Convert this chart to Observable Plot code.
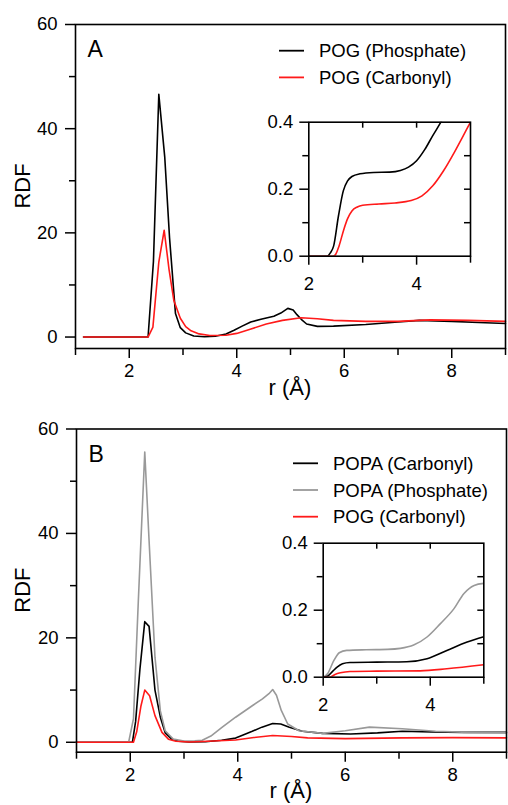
<!DOCTYPE html>
<html><head><meta charset="utf-8">
<script src="https://cdn.jsdelivr.net/npm/d3@7"></script>
<script src="https://cdn.jsdelivr.net/npm/@observablehq/plot@0.6"></script>
<style>
body{margin:0;background:#fff;}
#fig{position:relative;width:508px;height:805px;overflow:hidden;background:#fff;}
</style></head><body><div id="fig"></div>
<script>
// ---------- Panel A (main) ----------
const rPhosA = [1.15,2.35,2.45,2.55,2.66,2.75,2.86,2.95,3.05,3.2,3.4,3.6,3.8,3.95,4.1,4.26,4.45,4.69,4.82,4.95,5.05,5.12,5.2,5.3,5.5,5.8,6.4,7.0,7.4,8.0,8.5,9.0];
const gPhosA = [0,0,14.5,46.6,34.6,19,4.5,1.8,0.8,0.2,0.05,0.15,0.6,1.3,2.1,2.9,3.4,4.0,4.6,5.5,5.2,4.3,3.4,2.5,2.05,2.1,2.4,2.9,3.2,3.0,2.8,2.6];
const rCarbA = [1.15,2.35,2.44,2.55,2.65,2.74,2.83,2.95,3.05,3.15,3.3,3.5,3.8,4.0,4.25,4.55,4.85,5.2,5.5,5.8,6.4,7.0,7.6,8.3,9.0];
const gCarbA = [0,0,1.9,14.4,20.5,13,7.0,3.6,2.0,1.2,0.6,0.3,0.35,0.7,1.5,2.5,3.2,3.7,3.5,3.2,3.0,3.0,3.3,3.2,3.0];
// ---------- Panel A (inset) ----------
const rInPhosA = [2,2.34,2.4,2.46,2.55,2.64,2.72,2.8,2.95,3.2,3.5,3.7,3.85,4.0,4.15,4.3,4.45,4.55];
const gInPhosA = [0,0,0.01,0.03,0.12,0.195,0.225,0.238,0.246,0.25,0.251,0.256,0.266,0.285,0.318,0.36,0.40,0.43];
const rInCarbA = [2,2.45,2.5,2.56,2.65,2.72,2.8,2.9,3.0,3.3,3.6,3.9,4.1,4.3,4.5,4.7,4.85,5.0];
const gInCarbA = [0,0,0.006,0.03,0.08,0.112,0.135,0.147,0.152,0.156,0.159,0.166,0.18,0.21,0.255,0.31,0.355,0.40];
// ---------- Panel B (main) ----------
const rPopaCarbB = [1.0,2.04,2.1,2.18,2.27,2.35,2.46,2.56,2.65,2.77,2.9,3.1,3.4,3.7,3.96,4.1,4.27,4.45,4.65,4.8,4.96,5.2,5.58,6.1,6.6,7.06,7.6,8.2,9.0];
const gPopaCarbB = [0,0,4,14,23.1,22.2,10,4.8,1.8,0.6,0.2,0.05,0.1,0.4,0.8,1.4,2.1,2.9,3.6,3.5,2.9,2.1,1.7,1.6,1.8,2.1,2.0,1.9,1.9];
const rPopaPhosB = [1.0,1.97,2.06,2.15,2.27,2.35,2.46,2.56,2.65,2.8,3.0,3.2,3.34,3.5,3.7,3.96,4.27,4.46,4.58,4.65,4.72,4.81,4.93,5.14,5.58,6.0,6.45,7.06,7.68,8.3,9.0];
const gPopaPhosB = [0,0,4.5,27,55.6,38.7,16.3,6,2.2,0.6,0.25,0.3,0.4,1.2,2.8,4.8,7.0,8.3,9.3,10.1,9.0,6.1,3.5,2.2,1.7,2.2,2.9,2.6,2.1,1.9,1.8];
const rPogCarbB = [1.0,2.06,2.12,2.2,2.27,2.36,2.46,2.59,2.71,2.85,3.1,3.34,3.96,4.3,4.65,5.0,5.3,6.0,7.06,8.0,9.0];
const gPogCarbB = [0,0,2,7,10.0,8.9,5.1,1.9,0.6,0.2,0.05,0.15,0.45,0.9,1.3,1.1,0.85,0.7,0.85,0.9,0.85];
// ---------- Panel B (inset) ----------
const rInPopaPhosB = [2,2.08,2.2,2.3,2.44,2.8,3.2,3.44,3.69,3.94,4.19,4.44,4.63,4.82,5.0];
const gInPopaPhosB = [0,0.01,0.05,0.073,0.08,0.082,0.083,0.086,0.096,0.12,0.16,0.204,0.25,0.274,0.28];
const rInPopaCarbB = [2,2.08,2.18,2.26,2.36,2.5,3.0,3.56,3.94,4.31,4.69,5.0];
const gInPopaCarbB = [0,0.003,0.018,0.03,0.04,0.044,0.045,0.046,0.055,0.08,0.105,0.121];
const rInPogCarbB = [2,2.12,2.22,2.32,2.5,3.0,3.81,4.31,5.0];
const gInPogCarbB = [0,0,0.008,0.013,0.017,0.018,0.019,0.025,0.037];

// labels / ticks
const namesA = ["POG (Phosphate)", "POG (Carbonyl)"];
const colorsA = ["#000000", "#ff1a1a"];
const namesB = ["POPA (Carbonyl)", "POPA (Phosphate)", "POG (Carbonyl)"];
const colorsB = ["#000000", "#999999", "#ff1a1a"];
const xMajor = [2, 4, 6, 8], xMinor = [1, 3, 5, 7, 9];
const yMajor = [0, 20, 40, 60], yMinor = [10, 30, 50];
const inXMajor = [2, 4], inXMinor = [3, 5], inXTop = [3, 4];
const inYMajor = [0, 0.2, 0.4], inYMinor = [0.1, 0.3], inYRight = [0.1, 0.2, 0.3];
const xTitle = "r (Å)", yTitle = "RDF";

const FONT = '"Liberation Sans", Arial, Helvetica, sans-serif';
const fig = document.getElementById("fig");
const pts = (r, g) => r.map((x, i) => ({r: x, g: g[i]}));

function place(el, left, top) {
  el.style.position = "absolute";
  el.style.left = left + "px";
  el.style.top = top + "px";
  fig.appendChild(el);
}

function mainPanel({top, height, mT, mB, mL, mR, yMin, series, letter, letterY, legX, legY, titleY}) {
  const svg = Plot.plot({
    width: 508, height,
    marginTop: mT, marginBottom: mB, marginLeft: mL, marginRight: mR,
    style: {fontFamily: FONT, fontSize: "18.5px", background: "transparent", overflow: "visible", color: "#000"},
    x: {domain: [1, 9], label: null},
    y: {domain: [yMin, 60], label: null},
    marks: [
      Plot.axisX({ticks: xMajor, tickSize: 10, tickPadding: 5.3, tickFormat: d => String(d), strokeWidth: 1.5, label: null}),
      Plot.axisX({ticks: xMinor, tickSize: 7, tickFormat: () => "", strokeWidth: 1.5, label: null}),
      Plot.axisY({ticks: yMajor, tickSize: 10, tickPadding: 8, tickFormat: d => String(d), strokeWidth: 1.5, label: null}),
      Plot.axisY({ticks: yMinor, tickSize: 6, tickFormat: () => "", strokeWidth: 1.5, label: null}),
      ...series.map(s => Plot.line(pts(s.r, s.g), {x: "r", y: "g", stroke: s.color, strokeWidth: 1.6})),
      Plot.frame({strokeWidth: 1.6}),
      Plot.text([letter], {frameAnchor: "top-left", dx: 12, dy: letterY, fontSize: 23, textAnchor: "start", lineAnchor: "top"})
    ]
  });
  const s = d3.select(svg);
  const cy = mT + (height - mT - mB) / 2;
  s.append("text").attr("x", 30).attr("y", cy)
    .attr("transform", `rotate(-90, 30, ${cy})`)
    .attr("text-anchor", "middle").attr("font-size", 22).attr("font-family", FONT).text(yTitle);
  s.append("text").attr("x", mL + (508 - mL - mR) / 2).attr("y", titleY)
    .attr("text-anchor", "middle").attr("font-size", 22).attr("font-family", FONT).text(xTitle);
  const lg = s.append("g").attr("font-family", FONT).attr("font-size", 18.5).attr("text-anchor", "start");
  series.forEach((d, i) => {
    const y = legY + i * 26.7;
    lg.append("line").attr("x1", legX).attr("x2", legX + 25).attr("y1", y).attr("y2", y)
      .attr("stroke", d.color).attr("stroke-width", 1.8);
    lg.append("text").attr("x", legX + 40).attr("y", y).attr("dy", "0.36em")
      .attr("text-anchor", "start").text(d.name);
  });
  place(svg, 0, top);
}

function inset({left, top, width, height, mL, mR, mT, mB, series}) {
  const fw = width - mL - mR, fh = height - mT - mB;
  const svg = Plot.plot({
    width, height, marginLeft: mL, marginRight: mR, marginTop: mT, marginBottom: mB,
    style: {fontFamily: FONT, fontSize: "18.5px", background: "transparent", overflow: "visible", color: "#000"},
    x: {domain: [2, 5], label: null},
    y: {domain: [0, 0.4], label: null},
    marks: [
      Plot.axisX({ticks: inXMajor, tickSize: 9, tickPadding: 12, tickFormat: d => String(d), strokeWidth: 1.5, label: null}),
      Plot.axisX({ticks: inXMinor, tickSize: 7, tickFormat: () => "", strokeWidth: 1.5, label: null}),
      Plot.axisY({ticks: inYMajor, tickSize: 9, tickPadding: 6.5, tickFormat: d3.format(".1f"), strokeWidth: 1.5, label: null}),
      Plot.axisY({ticks: inYMinor, tickSize: 6, tickFormat: () => "", strokeWidth: 1.5, label: null}),
      // inward ticks on the top and right edges of the inset frame
      Plot.tickX(inXTop, {x: d => d, stroke: "#000", strokeWidth: 1.5, insetBottom: fh - 6}),
      Plot.tickY(inYRight, {y: d => d, stroke: "#000", strokeWidth: 1.5, insetLeft: fw - 6}),
      ...series.map(s => Plot.line(pts(s.r, s.g), {x: "r", y: "g", stroke: s.color, strokeWidth: 1.6, curve: "monotone-x", clip: true})),
      Plot.frame({strokeWidth: 1.6})
    ]
  });
  place(svg, left, top);
}

mainPanel({
  top: 0, height: 400, mT: 24, mB: 52, mL: 75, mR: 3, yMin: -2.2,
  letter: "A", letterY: 16, legX: 279, legY: 50.7, titleY: 394.5,
  series: [
    {r: rPhosA, g: gPhosA, color: colorsA[0], name: namesA[0]},
    {r: rCarbA, g: gCarbA, color: colorsA[1], name: namesA[1]}
  ]
});
inset({
  left: 250, top: 100, width: 230, height: 200, mL: 58.3, mR: 10, mT: 21.7, mB: 44.3,
  series: [
    {r: rInPhosA, g: gInPhosA, color: colorsA[0]},
    {r: rInCarbA, g: gInCarbA, color: colorsA[1]}
  ]
});

const seriesB = [
  {r: rPopaCarbB, g: gPopaCarbB, color: colorsB[0], name: namesB[0]},
  {r: rPopaPhosB, g: gPopaPhosB, color: colorsB[1], name: namesB[1]},
  {r: rPogCarbB, g: gPogCarbB, color: colorsB[2], name: namesB[2]}
];
mainPanel({
  top: 400, height: 405, mT: 28.5, mB: 53.3, mL: 76, mR: 2, yMin: -1.9,
  letter: "B", letterY: 17, legX: 293, legY: 63.3, titleY: 398,
  series: seriesB
});
inset({
  left: 260, top: 520, width: 233, height: 200, mL: 62.7, mR: 9.7, mT: 22.7, mB: 43.3,
  series: [
    {r: rInPopaPhosB, g: gInPopaPhosB, color: colorsB[1]},
    {r: rInPopaCarbB, g: gInPopaCarbB, color: colorsB[0]},
    {r: rInPogCarbB, g: gInPogCarbB, color: colorsB[2]}
  ]
});
</script></body></html>
